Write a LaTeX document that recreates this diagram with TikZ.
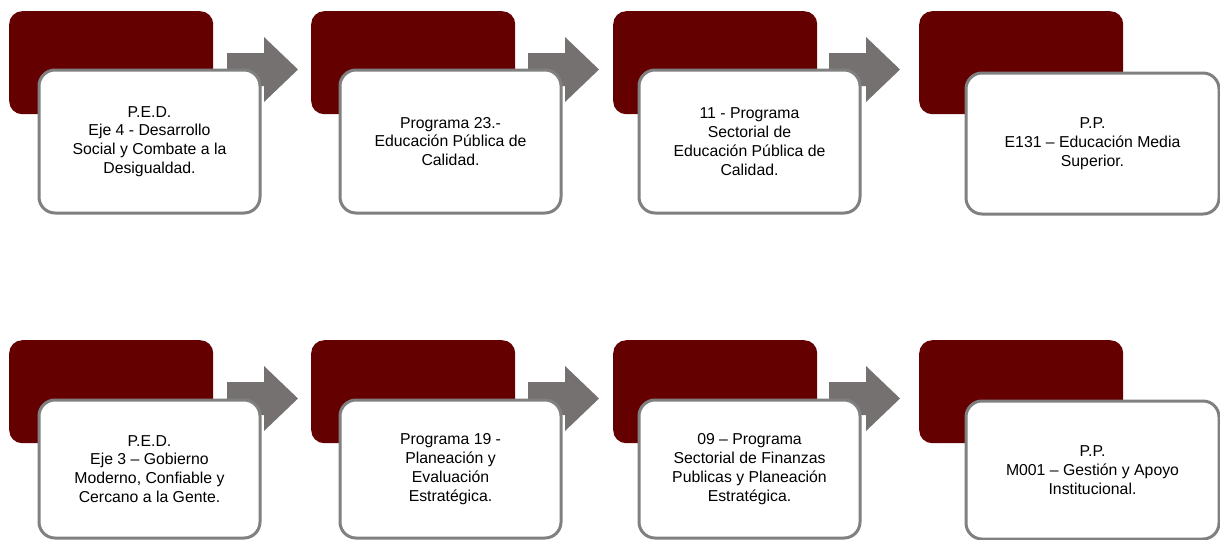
\documentclass[tikz,border=0pt]{standalone}
\usepackage{fontspec}
\setmainfont{Liberation Sans}
\definecolor{darkred}{HTML}{640000}
\definecolor{bordergray}{HTML}{808080}
\definecolor{arrowgray}{HTML}{767171}
\tikzset{
  darkbox/.style={fill=darkred, draw=none, rounded corners=13pt, minimum width=204pt, minimum height=103pt, inner sep=0pt, anchor=north west},
  whitebox/.style={fill=white, draw=bordergray, line width=3pt, rounded corners=16pt, minimum width=221pt, inner sep=2pt, anchor=north west, align=center, font=\fontsize{15.8pt}{18.8pt}\selectfont},
  arrowfill/.style={fill=arrowgray, draw=none}
}
\newcommand\grayarrow[3]{% name, x, top y of head
  \fill[arrowfill] (#2,#3+16) -- (#2+37,#3+16) -- (#2+37,#3) -- (#2+71,#3+32.5) -- (#2+37,#3+65) -- (#2+37,#3+49) -- (#2,#3+49) -- cycle;
  \coordinate (#1) at (#2+71,#3+32.5);}
\begin{document}
\begin{tikzpicture}[x=1pt,y=-1pt]
\useasboundingbox (0,0) rectangle (1220,539);
% ---------- row 1 ----------
\node[darkbox] (d1) at (9,11) {};
\node[darkbox] (d2) at (311,11) {};
\node[darkbox] (d3) at (613,11) {};
\node[darkbox] (d4) at (919,11) {};
\grayarrow{a1}{227}{37}
\grayarrow{a2}{528}{37}
\grayarrow{a3}{829}{37}
\node[whitebox, minimum height=143pt] (w1) at (37.5,68.5) {P.E.D.\\Eje 4 - Desarrollo\\Social y Combate a la\\Desigualdad.};
\node[whitebox, minimum height=143pt] (w2) at (338.5,68.5) {Programa 23.-\\Educación Pública de\\Calidad.};
\node[whitebox, minimum height=143pt] (w3) at (637.5,68.5) {11 - Programa\\Sectorial de\\Educación Pública de\\Calidad.};
\node[whitebox, minimum height=141pt, minimum width=253pt] (w4) at (964.5,71.5) {P.P.\\E131 – Educación Media\\Superior.};
% ---------- row 2 ----------
\node[darkbox] (d5) at (9,340) {};
\node[darkbox] (d6) at (311,340) {};
\node[darkbox] (d7) at (613,340) {};
\node[darkbox] (d8) at (919,340) {};
\grayarrow{a4}{227}{366}
\grayarrow{a5}{528}{366}
\grayarrow{a6}{829}{366}
\node[whitebox, minimum height=138pt] (w5) at (37.5,398.5) {P.E.D.\\Eje 3 – Gobierno\\Moderno, Confiable y\\Cercano a la Gente.};
\node[whitebox, minimum height=138pt] (w6) at (338.5,398.5) {Programa 19 -\\Planeación y\\Evaluación\\Estratégica.};
\node[whitebox, minimum height=138pt] (w7) at (637.5,398.5) {09 – Programa\\Sectorial de Finanzas\\Publicas y Planeación\\Estratégica.};
\node[whitebox, minimum height=138pt, minimum width=253pt] (w8) at (964.5,399.5) {P.P.\\M001 – Gestión y Apoyo\\Institucional.};
\end{tikzpicture}
\end{document}
